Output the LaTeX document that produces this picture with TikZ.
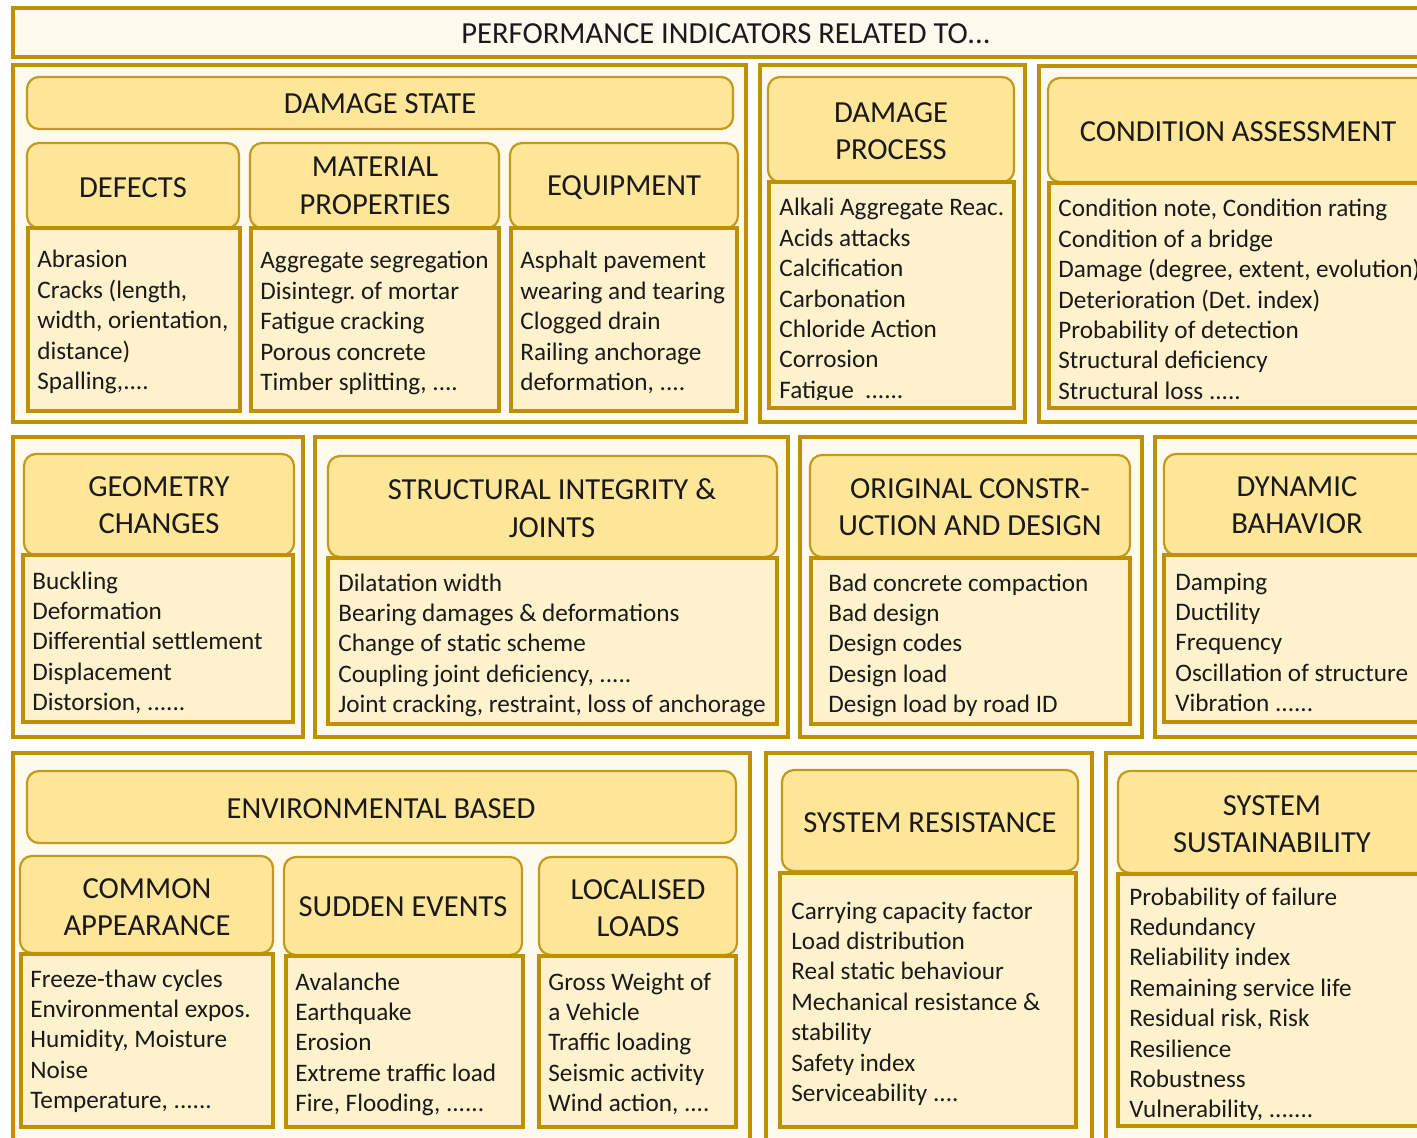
\documentclass[tikz,border=0pt]{standalone}
\usepackage{fontspec}
\setmainfont{Carlito}
\usetikzlibrary{fit}

\definecolor{gold}{HTML}{BF9000}
\definecolor{hdrgold}{HTML}{C49A1C}
\definecolor{hdrfill}{HTML}{FFE699}
\definecolor{cntfill}{HTML}{FFF2CC}
\definecolor{grpfill}{HTML}{FFFAEE}
\definecolor{ink}{HTML}{1A1A1A}

\tikzset{
  grp/.style={draw=gold, line width=1.8pt, fill=grpfill, inner sep=0pt},
  hdr/.style={draw=hdrgold, line width=1.1pt, fill=hdrfill, rounded corners=6pt, inner sep=0pt},
  cnt/.style={draw=gold, line width=2pt, fill=cntfill, inner sep=0pt},
  htxt/.style={font=\fontsize{15.3}{18.8}\selectfont, align=center, text=ink, inner sep=0pt},
  ctxt/.style={font=\fontsize{12.6}{15}\selectfont\frenchspacing, anchor=base west, text=ink, inner sep=0pt},
  ttl/.style={font=\fontsize{15.3}{18}\selectfont, text=ink, inner sep=0pt},
}

% a framed box spanning two corners: style, name, x1, y1, x2, y2
\newcommand\bx[6]{\node[#1, fit={(#3,#4) (#5,#6)}] (#2) {};}
% a column of list lines: name prefix, x, first baseline, list of lines
\newcommand\itemlines[4]{%
  \foreach \t [count=\i] in {#4} {\node[ctxt] (#1-\i) at (#2,{#3+(\i-1)*30.4}) {\t};}}
% a run of n trailing periods
\newcommand\dotsof[1]{\ifcase#1\or.\or..\or...\or....\or.....\or......\or.......\fi}

\begin{document}
\begin{tikzpicture}[x=0.5pt,y=-0.5pt]
\useasboundingbox (0,0) rectangle (1417,1138);
\clip (0,0) rectangle (1417,1138);
\fill[white] (0,0) rectangle (1417,1138);

% ---------- title bar ----------
\bx{grp}{title}{13}{8}{1440}{57}
\node[ttl] (title-t) at (726,34) {PERFORMANCE INDICATORS RELATED TO\dotsof{3}};

% ---------- group frames ----------
\bx{grp}{g1}{13}{65}{746}{422}
\bx{grp}{g2}{760}{65}{1025}{422}
\bx{grp}{g3}{1039}{66}{1440}{422}
\bx{grp}{g4}{13}{437}{303}{737}
\bx{grp}{g5}{315}{437}{788}{737}
\bx{grp}{g6}{800}{437}{1142}{737}
\bx{grp}{g7}{1155}{437}{1440}{737}
\bx{grp}{g8}{13}{753}{750}{1160}
\bx{grp}{g9}{766}{753}{1092}{1160}
\bx{grp}{g10}{1106}{753}{1440}{1160}

% ---------- headers ----------
\bx{hdr}{h-state}{27}{77}{733}{129}
\bx{hdr}{h-defects}{27}{143}{239}{228}
\bx{hdr}{h-material}{250}{143}{499}{228}
\bx{hdr}{h-equip}{510}{143}{738}{228}
\bx{hdr}{h-dproc}{768}{77}{1014}{182}
\bx{hdr}{h-cond}{1048}{78}{1440}{182}
\bx{hdr}{h-geom}{24}{454}{294}{555}
\bx{hdr}{h-struct}{328}{456}{777}{557}
\bx{hdr}{h-orig}{810}{455}{1130}{557}
\bx{hdr}{h-dyn}{1164}{454}{1440}{555}
\bx{hdr}{h-env}{27}{771}{736}{843}
\bx{hdr}{h-common}{20}{856}{273}{953}
\bx{hdr}{h-sudden}{284}{857}{522}{955}
\bx{hdr}{h-local}{539}{857}{737}{955}
\bx{hdr}{h-sysres}{782}{770}{1078}{871}
\bx{hdr}{h-syssus}{1118}{771}{1440}{873}

% ---------- content boxes ----------
\bx{cnt}{c-defects}{28}{228}{240}{411}
\bx{cnt}{c-material}{251}{228}{499}{411}
\bx{cnt}{c-equip}{511}{228}{737}{411}
\bx{cnt}{c-dproc}{769}{182}{1014}{408}
\bx{cnt}{c-cond}{1049}{183}{1440}{408}
\bx{cnt}{c-geom}{23}{555}{293}{722}
\bx{cnt}{c-struct}{328}{558}{777}{724}
\bx{cnt}{c-orig}{811}{558}{1130}{724}
\bx{cnt}{c-dyn}{1164}{555}{1440}{722}
\bx{cnt}{c-common}{21}{954}{273}{1127}
\bx{cnt}{c-sudden}{286}{956}{523}{1127}
\bx{cnt}{c-local}{539}{956}{736}{1127}
\bx{cnt}{c-sysres}{780}{873}{1076}{1127}
\bx{cnt}{c-syssus}{1118}{874}{1440}{1126}

% ---------- header texts ----------
\node[htxt] (t-state) at (380,104) {DAMAGE STATE};
\node[htxt] (t-defects) at (133,188) {DEFECTS};
\node[htxt] (t-material) at (375,186) {MATERIAL\\PROPERTIES};
\node[htxt] (t-equip) at (624,188) {EQUIPMENT};
\node[htxt] (t-dproc) at (891,131) {DAMAGE\\PROCESS};
\node[htxt] (t-cond) at (1238,132) {CONDITION ASSESSMENT};
\node[htxt] (t-geom) at (159,505) {GEOMETRY\\CHANGES};
\node[htxt] (t-struct) at (552,508) {STRUCTURAL INTEGRITY \&\\JOINTS};
\node[htxt] (t-orig) at (970,507) {ORIGINAL CONSTR-\\UCTION AND DESIGN};
\node[htxt] (t-dyn) at (1297,505) {DYNAMIC\\BAHAVIOR};
\node[htxt] (t-env) at (381,809) {ENVIRONMENTAL BASED};
\node[htxt] (t-common) at (147,907) {COMMON\\APPEARANCE};
\node[htxt] (t-sudden) at (403,907) {SUDDEN EVENTS};
\node[htxt] (t-local) at (638,908) {LOCALISED\\LOADS};
\node[htxt] (t-sysres) at (930,823) {SYSTEM RESISTANCE};
\node[htxt] (t-syssus) at (1272,824) {SYSTEM\\SUSTAINABILITY};

% ---------- list texts ----------
\itemlines{l-defects}{37}{268}{Abrasion,{Cracks (length,},{width, orientation,},distance),{Spalling,\dotsof{4}}}
\itemlines{l-material}{260}{269}{Aggregate segregation,Disintegr. of mortar,Fatigue cracking,Porous concrete,{Timber splitting, \dotsof{4}}}
\itemlines{l-equip}{520}{269}{Asphalt pavement,wearing and tearing,Clogged drain,Railing anchorage,{deformation, \dotsof{4}}}
\begin{scope}
  \clip (769,182) rectangle (1014,400);
  \itemlines{l-dproc}{779}{216}{Alkali Aggregate Reac.,Acids attacks,Calcification,Carbonation,Chloride Action,Corrosion,Fatigue\ \ \dotsof{6}}
\end{scope}
\itemlines{l-cond}{1058}{217}{{Condition note, Condition rating},Condition of a bridge,{Damage (degree, extent, evolution)},Deterioration (Det. index),Probability of detection,Structural deficiency,Structural loss \dotsof{5}}
\itemlines{l-geom}{32}{589}{Buckling,Deformation,Differential settlement,Displacement,{Distorsion, \dotsof{6}}}
\itemlines{l-struct}{338}{591}{Dilatation width,Bearing damages \& deformations,Change of static scheme,{Coupling joint deficiency, \dotsof{5}},{Joint cracking, restraint, loss of anchorage}}
\itemlines{l-orig}{828}{591}{Bad concrete compaction,Bad design,Design codes,Design load,Design load by road ID}
\itemlines{l-dyn}{1175}{590}{Damping,Ductility,Frequency,Oscillation of structure,Vibration \dotsof{6}}
\itemlines{l-common}{30}{987}{Freeze-thaw cycles,Environmental expos.,{Humidity, Moisture},Noise,{Temperature, \dotsof{6}}}
\itemlines{l-sudden}{295}{990}{Avalanche,Earthquake,Erosion,Extreme traffic load,{Fire, Flooding, \dotsof{6}}}
\itemlines{l-local}{548}{990}{Gross Weight of,a Vehicle,Traffic loading,Seismic activity,{Wind action, \dotsof{4}}}
\itemlines{l-sysres}{791}{919}{Carrying capacity factor,Load distribution,Real static behaviour,Mechanical resistance \&,stability,Safety index,Serviceability \dotsof{4}}
\begin{scope}
  \clip (1118,874) rectangle (1440,1119);
  \itemlines{l-syssus}{1129}{905}{Probability of failure,Redundancy,Reliability index,Remaining service life,{Residual risk, Risk},Resilience,Robustness,{Vulnerability, \dotsof{7}}}
\end{scope}
\end{tikzpicture}
\end{document}
